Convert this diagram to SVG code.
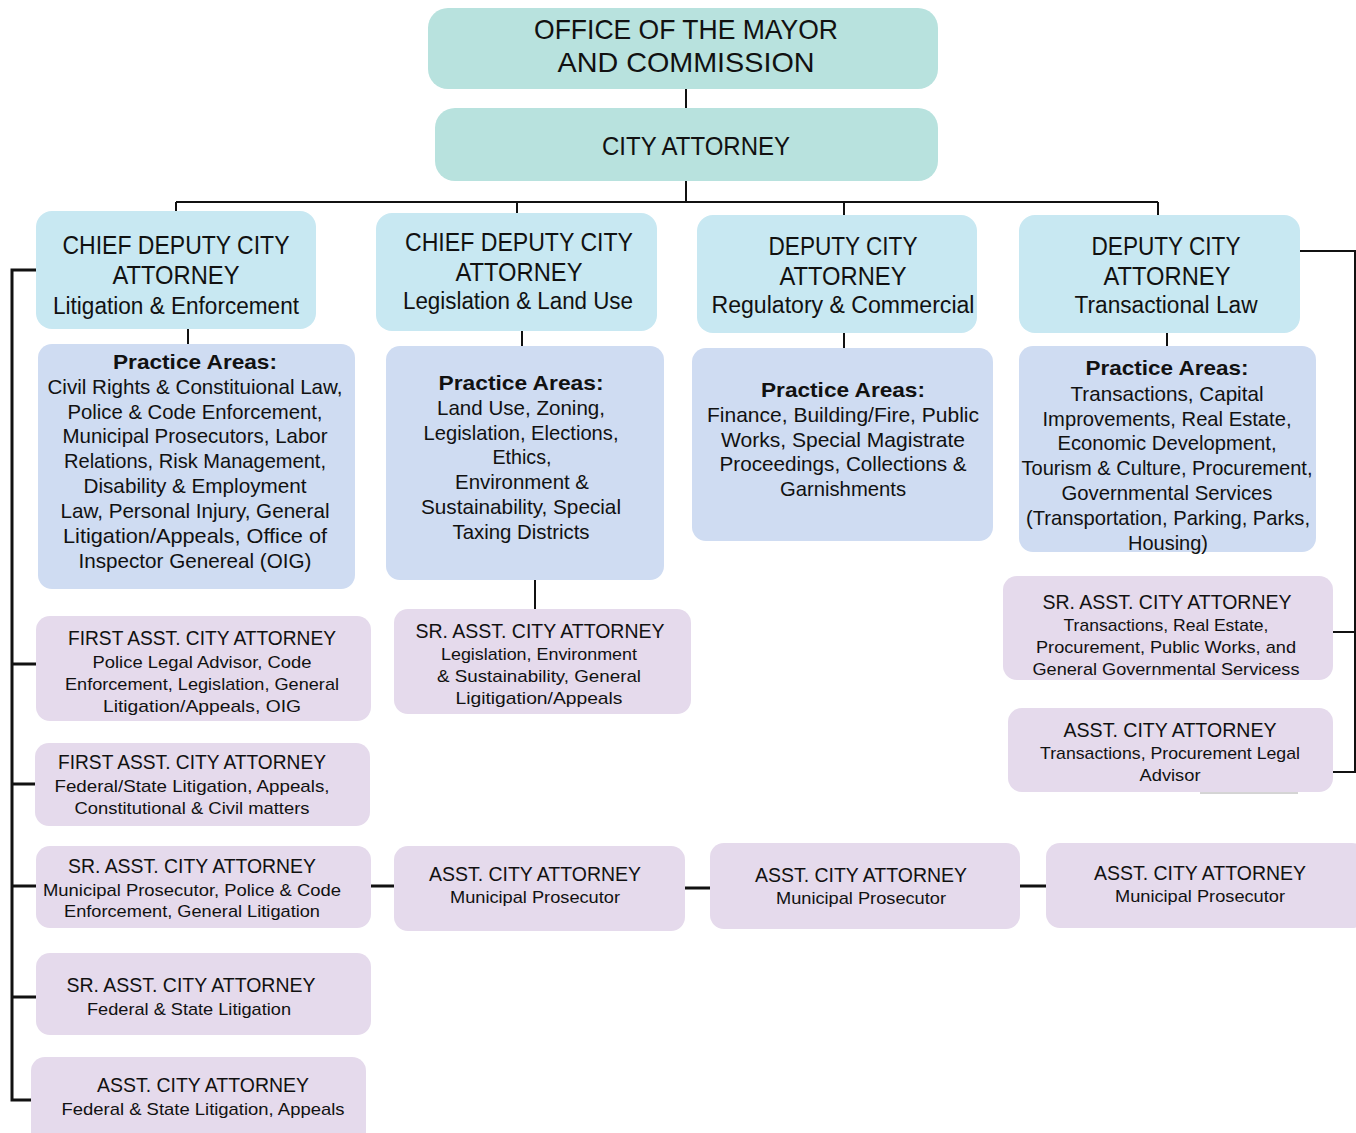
<svg xmlns="http://www.w3.org/2000/svg" width="1356" height="1133" viewBox="0 0 1356 1133">
<style>
text{font-family:"Liberation Sans",Arial,sans-serif;fill:#111;text-anchor:middle}
.top{fill:#b8e2de}
.dep{fill:#c8e8f2}
.pa{fill:#cfdcf2}
.as{fill:#e5daec}
.t28{font-size:28px}
.t26{font-size:26px}
.t23{font-size:23px}
.t21{font-size:21px}
.t17{font-size:17px}
.b{font-weight:bold}
.ln{stroke:#111;stroke-width:2;fill:none}
.lk{stroke:#111;stroke-width:3;fill:none}
</style>
<rect width="1356" height="1133" fill="#fff"/>
<g id="connectors">
<path class="ln" d="M686 89V108M686 181V202M176 202H1158M176 202V212M517 202V214M844 202V215M1158 202V215"/>
<path class="ln" d="M188 329V344M522 331V346M844 333V348M1167 333V346M535 580V609"/>
<path class="lk" d="M36 270H12V1100H32M12 664H36M12 784H36M12 886H36M12 997H36"/>
<path class="ln" d="M1300 251H1355V772H1333M1333 632H1355"/>
<path class="lk" d="M371 886H394M685 888H710M1020 886H1046"/>
<path d="M1200 793H1298" stroke="#aaa" stroke-width="1"/>
</g>
<g id="mayor"><rect class="top" x="428" y="8" width="510" height="81" rx="20"/>
<text class="t28" x="686" y="39" textLength="304" lengthAdjust="spacingAndGlyphs">OFFICE OF THE MAYOR</text>
<text class="t28" x="686" y="72" textLength="257" lengthAdjust="spacingAndGlyphs">AND COMMISSION</text></g>
<g id="city-attorney"><rect class="top" x="435" y="108" width="503" height="73" rx="20"/>
<text class="t26" x="696" y="155" textLength="188" lengthAdjust="spacingAndGlyphs">CITY ATTORNEY</text></g>

<g id="dep1"><rect class="dep" x="36" y="211" width="280" height="118" rx="16"/>
<text class="t26" x="176" y="254" textLength="227" lengthAdjust="spacingAndGlyphs">CHIEF DEPUTY CITY</text>
<text class="t26" x="176" y="284" textLength="127" lengthAdjust="spacingAndGlyphs">ATTORNEY</text>
<text class="t23" x="176" y="314" textLength="246" lengthAdjust="spacingAndGlyphs">Litigation &amp; Enforcement</text></g>
<g id="dep2"><rect class="dep" x="376" y="213" width="281" height="118" rx="16"/>
<text class="t26" x="519" y="251" textLength="228" lengthAdjust="spacingAndGlyphs">CHIEF DEPUTY CITY</text>
<text class="t26" x="519" y="281" textLength="127" lengthAdjust="spacingAndGlyphs">ATTORNEY</text>
<text class="t23" x="518" y="309" textLength="230" lengthAdjust="spacingAndGlyphs">Legislation &amp; Land Use</text></g>
<g id="dep3"><rect class="dep" x="697" y="215" width="280" height="118" rx="16"/>
<text class="t26" x="843" y="255" textLength="149" lengthAdjust="spacingAndGlyphs">DEPUTY CITY</text>
<text class="t26" x="843" y="285" textLength="127" lengthAdjust="spacingAndGlyphs">ATTORNEY</text>
<text class="t23" x="843" y="313" textLength="263" lengthAdjust="spacingAndGlyphs">Regulatory &amp; Commercial</text></g>
<g id="dep4"><rect class="dep" x="1019" y="215" width="281" height="118" rx="16"/>
<text class="t26" x="1166" y="255" textLength="149" lengthAdjust="spacingAndGlyphs">DEPUTY CITY</text>
<text class="t26" x="1167" y="285" textLength="127" lengthAdjust="spacingAndGlyphs">ATTORNEY</text>
<text class="t23" x="1166" y="313" textLength="183" lengthAdjust="spacingAndGlyphs">Transactional Law</text></g>

<g id="pa1"><rect class="pa" x="38" y="344" width="317" height="245" rx="14"/>
<text class="t21 b" x="195" y="369" textLength="164" lengthAdjust="spacingAndGlyphs">Practice Areas:</text>
<text class="t21" x="195" y="394" textLength="295" lengthAdjust="spacingAndGlyphs">Civil Rights &amp; Constituional Law,</text>
<text class="t21" x="195" y="419" textLength="255" lengthAdjust="spacingAndGlyphs">Police &amp; Code Enforcement,</text>
<text class="t21" x="195" y="443" textLength="265" lengthAdjust="spacingAndGlyphs">Municipal Prosecutors, Labor</text>
<text class="t21" x="195" y="468" textLength="262" lengthAdjust="spacingAndGlyphs">Relations, Risk Management,</text>
<text class="t21" x="195" y="493" textLength="223" lengthAdjust="spacingAndGlyphs">Disability &amp; Employment</text>
<text class="t21" x="195" y="518" textLength="269" lengthAdjust="spacingAndGlyphs">Law, Personal Injury, General</text>
<text class="t21" x="195" y="543" textLength="264" lengthAdjust="spacingAndGlyphs">Litigation/Appeals, Office of</text>
<text class="t21" x="195" y="568" textLength="233" lengthAdjust="spacingAndGlyphs">Inspector Genereal (OIG)</text></g>
<g id="pa2"><rect class="pa" x="386" y="346" width="278" height="234" rx="14"/>
<text class="t21 b" x="521" y="390" textLength="165" lengthAdjust="spacingAndGlyphs">Practice Areas:</text>
<text class="t21" x="521" y="415" textLength="168" lengthAdjust="spacingAndGlyphs">Land Use, Zoning,</text>
<text class="t21" x="521" y="440" textLength="195" lengthAdjust="spacingAndGlyphs">Legislation, Elections,</text>
<text class="t21" x="522" y="464" textLength="59" lengthAdjust="spacingAndGlyphs">Ethics,</text>
<text class="t21" x="522" y="489" textLength="134" lengthAdjust="spacingAndGlyphs">Environment &amp;</text>
<text class="t21" x="521" y="514" textLength="200" lengthAdjust="spacingAndGlyphs">Sustainability, Special</text>
<text class="t21" x="521" y="539" textLength="137" lengthAdjust="spacingAndGlyphs">Taxing Districts</text></g>
<g id="pa3"><rect class="pa" x="692" y="348" width="301" height="193" rx="14"/>
<text class="t21 b" x="843" y="397" textLength="164" lengthAdjust="spacingAndGlyphs">Practice Areas:</text>
<text class="t21" x="843" y="422" textLength="272" lengthAdjust="spacingAndGlyphs">Finance, Building/Fire, Public</text>
<text class="t21" x="843" y="447" textLength="244" lengthAdjust="spacingAndGlyphs">Works, Special Magistrate</text>
<text class="t21" x="843" y="471" textLength="247" lengthAdjust="spacingAndGlyphs">Proceedings, Collections &amp;</text>
<text class="t21" x="843" y="496" textLength="126" lengthAdjust="spacingAndGlyphs">Garnishments</text></g>
<g id="pa4"><rect class="pa" x="1019" y="346" width="297" height="206" rx="14"/>
<text class="t21 b" x="1167" y="375" textLength="163" lengthAdjust="spacingAndGlyphs">Practice Areas:</text>
<text class="t21" x="1167" y="401" textLength="193" lengthAdjust="spacingAndGlyphs">Transactions, Capital</text>
<text class="t21" x="1167" y="426" textLength="249" lengthAdjust="spacingAndGlyphs">Improvements,  Real Estate,</text>
<text class="t21" x="1167" y="450" textLength="219" lengthAdjust="spacingAndGlyphs">Economic Development,</text>
<text class="t21" x="1167" y="475" textLength="291" lengthAdjust="spacingAndGlyphs">Tourism &amp; Culture, Procurement,</text>
<text class="t21" x="1167" y="500" textLength="211" lengthAdjust="spacingAndGlyphs">Governmental Services</text>
<text class="t21" x="1168" y="525" textLength="284" lengthAdjust="spacingAndGlyphs">(Transportation, Parking, Parks,</text>
<text class="t21" x="1168" y="550" textLength="80" lengthAdjust="spacingAndGlyphs">Housing)</text></g>

<g id="sr-leg"><rect class="as" x="394" y="609" width="297" height="105" rx="14"/>
<text class="t21" x="540" y="638" textLength="249" lengthAdjust="spacingAndGlyphs">SR. ASST. CITY ATTORNEY</text>
<text class="t17" x="539" y="660" textLength="196" lengthAdjust="spacingAndGlyphs">Legislation, Environment</text>
<text class="t17" x="539" y="682" textLength="204" lengthAdjust="spacingAndGlyphs">&amp; Sustainability, General</text>
<text class="t17" x="539" y="704" textLength="167" lengthAdjust="spacingAndGlyphs">Ligitigation/Appeals</text></g>

<g id="sr-trans"><rect class="as" x="1003" y="576" width="330" height="104" rx="14"/>
<text class="t21" x="1167" y="609" textLength="249" lengthAdjust="spacingAndGlyphs">SR. ASST. CITY ATTORNEY</text>
<text class="t17" x="1166" y="631" textLength="205" lengthAdjust="spacingAndGlyphs">Transactions, Real Estate,</text>
<text class="t17" x="1166" y="653" textLength="260" lengthAdjust="spacingAndGlyphs">Procurement, Public Works, and</text>
<text class="t17" x="1166" y="675" textLength="267" lengthAdjust="spacingAndGlyphs">General Governmental Servicess</text></g>
<g id="asst-trans"><rect class="as" x="1008" y="708" width="325" height="84" rx="14"/>
<text class="t21" x="1170" y="737" textLength="213" lengthAdjust="spacingAndGlyphs">ASST. CITY ATTORNEY</text>
<text class="t17" x="1170" y="759" textLength="260" lengthAdjust="spacingAndGlyphs">Transactions, Procurement Legal</text>
<text class="t17" x="1170" y="781" textLength="61" lengthAdjust="spacingAndGlyphs">Advisor</text></g>

<g id="first1"><rect class="as" x="36" y="616" width="335" height="105" rx="14"/>
<text class="t21" x="202" y="645" textLength="268" lengthAdjust="spacingAndGlyphs">FIRST ASST. CITY ATTORNEY</text>
<text class="t17" x="202" y="668" textLength="219" lengthAdjust="spacingAndGlyphs">Police Legal Advisor, Code</text>
<text class="t17" x="202" y="690" textLength="274" lengthAdjust="spacingAndGlyphs">Enforcement, Legislation, General</text>
<text class="t17" x="202" y="712" textLength="198" lengthAdjust="spacingAndGlyphs">Litigation/Appeals, OIG</text></g>
<g id="first2"><rect class="as" x="35" y="743" width="335" height="83" rx="14"/>
<text class="t21" x="192" y="769" textLength="268" lengthAdjust="spacingAndGlyphs">FIRST ASST. CITY ATTORNEY</text>
<text class="t17" x="192" y="792" textLength="275" lengthAdjust="spacingAndGlyphs">Federal/State Litigation, Appeals,</text>
<text class="t17" x="192" y="814" textLength="235" lengthAdjust="spacingAndGlyphs">Constitutional &amp; Civil matters</text></g>
<g id="sr1"><rect class="as" x="36" y="846" width="335" height="82" rx="14"/>
<text class="t21" x="192" y="873" textLength="248" lengthAdjust="spacingAndGlyphs">SR. ASST. CITY ATTORNEY</text>
<text class="t17" x="192" y="896" textLength="298" lengthAdjust="spacingAndGlyphs">Municipal Prosecutor, Police &amp; Code</text>
<text class="t17" x="192" y="917" textLength="256" lengthAdjust="spacingAndGlyphs">Enforcement, General Litigation</text></g>
<g id="sr2"><rect class="as" x="36" y="953" width="335" height="82" rx="14"/>
<text class="t21" x="191" y="992" textLength="249" lengthAdjust="spacingAndGlyphs">SR. ASST. CITY ATTORNEY</text>
<text class="t17" x="189" y="1015" textLength="204" lengthAdjust="spacingAndGlyphs">Federal &amp; State Litigation</text></g>
<g id="asst-left"><rect class="as" x="31" y="1057" width="335" height="90" rx="14"/>
<text class="t21" x="203" y="1092" textLength="212" lengthAdjust="spacingAndGlyphs">ASST. CITY ATTORNEY</text>
<text class="t17" x="203" y="1115" textLength="283" lengthAdjust="spacingAndGlyphs">Federal &amp; State Litigation, Appeals</text></g>

<g id="asst-mp1"><rect class="as" x="394" y="846" width="291" height="85" rx="14"/>
<text class="t21" x="535" y="881" textLength="212" lengthAdjust="spacingAndGlyphs">ASST. CITY ATTORNEY</text>
<text class="t17" x="535" y="903" textLength="170" lengthAdjust="spacingAndGlyphs">Municipal Prosecutor</text></g>
<g id="asst-mp2"><rect class="as" x="710" y="843" width="310" height="86" rx="14"/>
<text class="t21" x="861" y="882" textLength="212" lengthAdjust="spacingAndGlyphs">ASST. CITY ATTORNEY</text>
<text class="t17" x="861" y="904" textLength="170" lengthAdjust="spacingAndGlyphs">Municipal Prosecutor</text></g>
<g id="asst-mp3"><rect class="as" x="1046" y="843" width="320" height="85" rx="14"/>
<text class="t21" x="1200" y="880" textLength="212" lengthAdjust="spacingAndGlyphs">ASST. CITY ATTORNEY</text>
<text class="t17" x="1200" y="902" textLength="170" lengthAdjust="spacingAndGlyphs">Municipal Prosecutor</text></g>
</svg>
